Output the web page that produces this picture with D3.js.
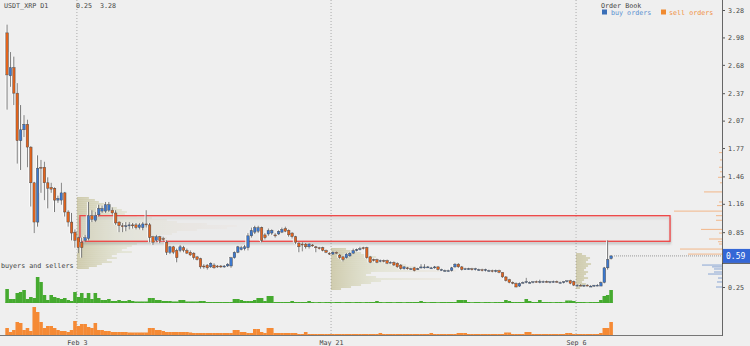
<!DOCTYPE html>
<html>
<head>
<meta charset="utf-8">
<script src="https://cdn.jsdelivr.net/npm/d3@7/dist/d3.min.js"></script>
<style>
html, body { margin: 0; padding: 0; background: #efefef; }
svg { display: block; }
text { font-family: "DejaVu Sans Mono", monospace; font-size: 6.7px; fill: #444; }
</style>
</head>
<body>
<svg id="chart" width="750" height="346"></svg>
<script>
// ---- data ----
var pair = "USDT_XRP", period = "D1";
var priceRange = [0.25, 3.28];
var yTicks = [0.25, 0.55, 0.85, 1.16, 1.46, 1.77, 2.07, 2.37, 2.68, 2.98, 3.28];
var dateTickIndex = [20.6, 95.5, 167.7];
var dateTickLabel = ["Feb 3", "May 21", "Sep 6"];

var open = [3.03,2.56,2.65,2.37,1.85,1.97,2.03,1.78,1.39,0.96, 1.56,1.56,1.39,1.34,1.33,1.20,1.20,1.28,1.07,0.96,
  0.85,0.79,0.74,0.76,0.78,1.03,0.98,1.04,1.08,1.08, 1.09,1.09,1.06,0.96,0.92,0.91,0.92,0.93,0.93,0.90,
  0.90,0.94,0.93,0.80,0.76,0.80,0.78,0.74,0.63,0.69, 0.65,0.65,0.68,0.65,0.63,0.62,0.58,0.56,0.48,0.49,
  0.47,0.49,0.48,0.48,0.47,0.48,0.48,0.57,0.63,0.66, 0.67,0.68,0.81,0.85,0.86,0.90,0.82,0.83,0.84,0.82,
  0.83,0.85,0.89,0.87,0.84,0.80,0.73,0.72,0.72,0.69, 0.71,0.69,0.68,0.68,0.65,0.62,0.61,0.63,0.60,0.58,
  0.57,0.59,0.62,0.65,0.66,0.68,0.68,0.58,0.55,0.55, 0.53,0.54,0.54,0.52,0.52,0.51,0.49,0.45,0.46,0.45,
  0.46,0.45,0.46,0.47,0.47,0.46,0.46,0.47,0.44,0.43, 0.43,0.43,0.47,0.50,0.47,0.45,0.45,0.45,0.44,0.44,
  0.44,0.43,0.43,0.43,0.42,0.43,0.41,0.36,0.33,0.30, 0.29,0.26,0.30,0.30,0.30,0.30,0.31,0.30,0.31,0.31,
  0.30,0.31,0.31,0.30,0.30,0.31,0.32,0.31,0.27,0.27, 0.26,0.27,0.26,0.26,0.27,0.26,0.30,0.46,0.56];
var high = [3.12,2.82,2.77,2.48,2.24,2.13,2.08,1.79,1.40,1.69, 1.64,1.62,1.45,1.39,1.34,1.25,1.39,1.29,1.09,1.06,
  0.88,0.80,0.79,0.82,1.18,1.09,1.07,1.15,1.14,1.18, 1.18,1.12,1.09,0.97,0.95,0.96,0.96,0.95,0.95,0.95,
  0.96,1.09,0.95,0.81,0.82,0.81,0.80,0.76,0.70,0.70, 0.67,0.71,0.70,0.67,0.65,0.63,0.59,0.57,0.50,0.50,
  0.52,0.51,0.49,0.49,0.49,0.51,0.58,0.64,0.70,0.70, 0.71,0.84,0.90,0.92,0.92,0.91,0.84,0.89,0.88,0.84,
  0.87,0.90,0.91,0.88,0.85,0.81,0.74,0.74,0.73,0.73, 0.72,0.70,0.69,0.69,0.66,0.63,0.64,0.64,0.61,0.59,
  0.62,0.63,0.67,0.67,0.69,0.69,0.69,0.59,0.56,0.56, 0.55,0.55,0.55,0.53,0.53,0.52,0.50,0.48,0.47,0.46,
  0.47,0.46,0.50,0.50,0.48,0.47,0.48,0.48,0.45,0.44, 0.44,0.47,0.51,0.51,0.48,0.46,0.46,0.46,0.46,0.45,
  0.45,0.45,0.44,0.44,0.44,0.44,0.41,0.37,0.34,0.31, 0.30,0.30,0.31,0.35,0.31,0.31,0.32,0.33,0.32,0.32,
  0.31,0.32,0.32,0.31,0.31,0.32,0.33,0.32,0.28,0.28, 0.27,0.28,0.27,0.27,0.28,0.31,0.47,0.76,0.60];
var low = [2.19,2.44,2.24,1.60,1.53,1.89,1.56,1.13,0.84,0.91, 1.28,1.20,1.11,1.28,1.07,1.17,1.15,1.02,0.91,0.76,
  0.68,0.62,0.57,0.74,0.76,0.96,0.96,1.02,1.06,1.06, 1.07,1.04,0.93,0.85,0.85,0.86,0.88,0.89,0.88,0.88,
  0.87,0.90,0.74,0.71,0.74,0.73,0.75,0.60,0.61,0.61, 0.52,0.63,0.63,0.61,0.59,0.55,0.54,0.45,0.45,0.44,
  0.46,0.45,0.46,0.46,0.46,0.47,0.46,0.56,0.62,0.65, 0.65,0.65,0.79,0.83,0.84,0.74,0.77,0.81,0.82,0.79,
  0.82,0.84,0.85,0.80,0.78,0.72,0.63,0.64,0.67,0.67, 0.69,0.63,0.66,0.64,0.62,0.60,0.60,0.61,0.56,0.53,
  0.56,0.58,0.61,0.64,0.65,0.66,0.56,0.51,0.53,0.51, 0.52,0.52,0.50,0.51,0.48,0.46,0.44,0.44,0.44,0.44,
  0.42,0.44,0.45,0.45,0.46,0.45,0.45,0.43,0.43,0.42, 0.42,0.42,0.46,0.46,0.43,0.44,0.44,0.43,0.43,0.43,
  0.42,0.42,0.42,0.41,0.41,0.40,0.35,0.31,0.29,0.28, 0.245,0.25,0.29,0.29,0.29,0.29,0.30,0.29,0.30,0.30,
  0.29,0.30,0.30,0.29,0.29,0.30,0.28,0.26,0.26,0.26, 0.25,0.26,0.25,0.25,0.26,0.26,0.29,0.44,0.55];
var close = [2.57,2.65,2.37,1.85,1.97,2.03,1.78,1.39,0.96,1.55, 1.55,1.39,1.33,1.32,1.20,1.22,1.28,1.07,0.96,0.84,
  0.76,0.68,0.68,0.79,1.03,0.99,1.03,1.11,1.11,1.15, 1.15,1.06,0.95,0.92,0.91,0.92,0.93,0.92,0.90,0.93,
  0.94,0.93,0.79,0.74,0.80,0.76,0.77,0.63,0.69,0.63, 0.57,0.69,0.65,0.62,0.60,0.57,0.55,0.47,0.47,0.46,
  0.51,0.46,0.47,0.47,0.48,0.50,0.57,0.63,0.69,0.68, 0.69,0.81,0.87,0.90,0.90,0.76,0.79,0.87,0.87,0.81,
  0.86,0.88,0.86,0.82,0.80,0.74,0.69,0.71,0.69,0.72, 0.70,0.68,0.67,0.65,0.63,0.61,0.63,0.62,0.57,0.55,
  0.61,0.62,0.65,0.66,0.67,0.67,0.57,0.52,0.54,0.52, 0.54,0.53,0.51,0.52,0.49,0.47,0.45,0.47,0.45,0.45,
  0.43,0.45,0.47,0.47,0.47,0.46,0.47,0.44,0.44,0.43, 0.43,0.46,0.50,0.47,0.44,0.45,0.45,0.44,0.45,0.44,
  0.43,0.44,0.43,0.42,0.43,0.41,0.36,0.32,0.30,0.29, 0.25,0.29,0.30,0.31,0.30,0.31,0.30,0.31,0.31,0.30,
  0.31,0.31,0.30,0.30,0.31,0.32,0.29,0.27,0.27,0.26, 0.27,0.26,0.26,0.27,0.27,0.30,0.46,0.55,0.59];

var buyVol = [14,4,4,10,11,13,4,6,5,26, 21,8,3,8,6,5,4,5,3,2, 11,6,10,5,10,4,10,5,3,3,
  4,2,2,3,2,2,3,2,1.5,1.5, 1.5,1.5,5,5,3,3,2,2,2,1.5, 1.5,3,3,1.5,1.5,1.5,1.5,2,2,1,
  1,1,1,1,1,1,1,4,4,3, 2,2,2,3,5,5,2,7,7,1, 1,1,1,1,2,1,1,1,1,2,
  1,0.7,1,0.7,1,1,0.7,1,1,0.7, 1,1,0.7,1,1,0.7,1,1,1,2, 1,0.7,1,1,0.7,1,1,0.7,1,1,
  1,1,2,1,0.7,1,1,0.7,1,1, 1,1,1,3,3,3,1,0.7,1,1, 0.7,1,1,0.7,1,1,1,3,2,1,
  1,1,1,4,2,1,1,3,1,1, 1,0.7,1,1,0.7,2.5,2.5,2,1,1, 1,0.7,1,1,1,3,7,8,13];
var sellVol = [7,3,5,13,12,5,7,4,28,23, 13,7,9,9,7,5,4,4,3,5, 14,9,11,11,8,7,12,5,5,4,
  4,3,3,3,3,3,2.5,2.5,2.5,2.5, 2.5,2.5,7,7,5,5,4,3,3,3, 3,3,3,3,2.5,2,2,2,2,2,
  2,2,2,2,2,2,2,5,5,3, 3,2,2,6,6,3,2,7,7,2, 2,2,2,2,2,2,1,1,3,1,
  1,1,1,1,1,1,1,1,1,1, 1,1,1,1,1,1,1,1,1,1, 2,1,1,1,1,1,1,1,1,1,
  1,1,1,1,1,2,1,1,1,1, 1,1,1,2,2,2,1,1,1,1, 1,1,1,1,1,1,1,2.5,2.5,1,
  1,1,1,3,3,1,1,1,1,1, 1,1,1,1,1,2,2,1,1,1, 1,1,1,1,1,2,7,7,13];

// volume profiles: start candle, price of the first bin, bin size, volume per bin
var profileStart = [20.6, 95.5, 167.7];
var profileTop = [1.224, 0.666, 0.611];
var profileStep = 0.0219;
var profileVol = [
  [12,18,22,28,34,40,45,50,48,60,75,90,100,130,160,150,120,100,95,80,90,75,70,60,55,50,45,55,40,35,40,30,35,25,20,12],
  [15,25,30,35,45,40,50,60,75,85,70,125,40,35,45,110,50,40,30,20,10],
  [6,10,14,12,10,15,12,10,8,12,10,8,12,8,6,10,6,4]
];

// order book
var sellPrices = [1.72,1.64,1.56,1.51,1.45,1.39,1.29,1.18,1.14,1.08,1.03,0.98,0.88,0.84,0.775,0.745,0.72,0.665,0.61];
var sellAmounts = [3,2,3,2,4,2,18,3,5,48,6,6,21,3,13,4,3,42,34];
var buyPrices = [0.49,0.47,0.447,0.414,0.392,0.348,0.305,0.25];
var buyAmounts = [20,10,8,8,14,4,5,6];

// annotations
var zone = { from: 21.5, to: 195.4, top: 1.03, bottom: 0.75 };
var sellZone = { from: 20.6, to: 175.6, level: 13 };

// ---- scales ----
var svg = d3.select("#chart");
var n = open.length;
var x = d3.scaleLinear().domain([0, n - 1]).range([7, 611]);
var y = d3.scaleLinear().domain(priceRange).range([287, 10]);
var buyY = d3.scaleLinear().domain([0, 30]).range([303, 273]);
var sellY = d3.scaleLinear().domain([0, 30]).range([335, 305]);
var amt = d3.scaleLinear().domain([0, 50]).range([0, 50]);
var step = x(1) - x(0);
var axisX = 722;
var last = close[n - 1];

var defs = svg.append("defs");
var sh = defs.append("filter").attr("id", "shadow").attr("x", "-5%").attr("y", "-50%").attr("width", "110%").attr("height", "200%");
sh.append("feDropShadow").attr("dx", 0).attr("dy", 2).attr("stdDeviation", 1.2)
  .attr("flood-color", "#666").attr("flood-opacity", 0.5);
var halo = defs.append("filter").attr("id", "halo");
halo.append("feDropShadow").attr("dx", -1).attr("dy", 0).attr("stdDeviation", 0.2)
  .attr("flood-color", "#fff").attr("flood-opacity", 0.9);

profileStart.forEach(function(s, k) {
  var g = defs.append("linearGradient").attr("id", "prof" + k)
    .attr("gradientUnits", "userSpaceOnUse")
    .attr("x1", x(s)).attr("x2", x(s) + 160).attr("y1", 0).attr("y2", 0);
  g.append("stop").attr("offset", 0).attr("stop-color", "#a49b55").attr("stop-opacity", 0.7);
  g.append("stop").attr("offset", 0.3).attr("stop-color", "#c2c68e").attr("stop-opacity", 0.4);
  g.append("stop").attr("offset", 1).attr("stop-color", "#f0c8b8").attr("stop-opacity", 0.15);
});

svg.append("rect").attr("width", 750).attr("height", 346).attr("fill", "#efefef");

// date grid
svg.append("g").selectAll("line").data(dateTickIndex).enter().append("line")
  .attr("x1", function(d) { return x(d); }).attr("x2", function(d) { return x(d); })
  .attr("y1", 0).attr("y2", 335)
  .attr("stroke", "#aaa").attr("stroke-dasharray", "1,2");

// volume profiles
profileVol.forEach(function(vols, k) {
  svg.append("g").selectAll("rect").data(vols).enter().append("rect")
    .attr("x", x(profileStart[k]))
    .attr("y", function(d, i) { return y(profileTop[k] - i * profileStep) - 0.6; })
    .attr("width", function(d) { return amt(d); })
    .attr("height", 1.2)
    .attr("fill", "url(#prof" + k + ")");
});

// price zone
svg.append("rect")
  .attr("x", x(zone.from)).attr("y", y(zone.top))
  .attr("width", x(zone.to) - x(zone.from)).attr("height", y(zone.bottom) - y(zone.top))
  .attr("fill", "rgba(255,255,255,0.18)")
  .attr("stroke", "#ee4444").attr("stroke-width", 1.3)
  .attr("filter", "url(#shadow)");

// candles
var candle = svg.append("g").attr("filter", "url(#halo)").selectAll("g").data(d3.range(n)).enter().append("g");
candle.append("line")
  .attr("x1", function(i) { return x(i); }).attr("x2", function(i) { return x(i); })
  .attr("y1", function(i) { return y(high[i]); }).attr("y2", function(i) { return y(low[i]); })
  .attr("stroke", "#777").attr("stroke-width", 1);
candle.append("rect")
  .attr("x", function(i) { return x(i) - 1.3; })
  .attr("width", 2.6)
  .attr("y", function(i) { return y(Math.max(open[i], close[i])); })
  .attr("height", function(i) { return Math.max(1, Math.abs(y(open[i]) - y(close[i]))); })
  .attr("fill", function(i) { return close[i] >= open[i] ? "#3a78cf" : "#e2641b"; })
  .attr("stroke", "#444").attr("stroke-width", 0.5);

// buyers and sellers
svg.append("line").attr("x1", x(0) - step / 2).attr("x2", x(n - 1) + step / 2)
  .attr("y1", buyY(0) - 0.5).attr("y2", buyY(0) - 0.5).attr("stroke", "#a8d898");
svg.append("g").selectAll("rect").data(buyVol).enter().append("rect")
  .attr("x", function(d, i) { return x(i) - step / 2; })
  .attr("width", step + 0.2)
  .attr("y", function(d) { return buyY(d); })
  .attr("height", function(d) { return buyY(0) - buyY(d); })
  .attr("fill", "#45aa2f");
svg.append("g").selectAll("rect").data(sellVol).enter().append("rect")
  .attr("x", function(d, i) { return x(i) - step / 2; })
  .attr("width", step + 0.2)
  .attr("y", function(d) { return sellY(d); })
  .attr("height", function(d) { return sellY(0) - sellY(d); })
  .attr("fill", "#f58a35");
svg.append("line")
  .attr("x1", x(sellZone.from)).attr("x2", x(sellZone.to))
  .attr("y1", sellY(sellZone.level)).attr("y2", sellY(sellZone.level))
  .attr("stroke", "#ee4444").attr("stroke-width", 1.4)
  .attr("filter", "url(#shadow)");
svg.append("text").attr("x", 1).attr("y", 268).text("buyers and sellers");

// order book
svg.append("g").selectAll("line").data(sellPrices).enter().append("line")
  .attr("x1", function(d, i) { return axisX - amt(sellAmounts[i]); }).attr("x2", axisX)
  .attr("y1", function(d) { return y(d); }).attr("y2", function(d) { return y(d); })
  .attr("stroke", "#f2b688").attr("stroke-width", 1);
svg.append("g").selectAll("line").data(buyPrices).enter().append("line")
  .attr("x1", function(d, i) { return axisX - amt(buyAmounts[i]); }).attr("x2", axisX)
  .attr("y1", function(d) { return y(d); }).attr("y2", function(d) { return y(d); })
  .attr("stroke", "#8aa6d4").attr("stroke-width", 1);

// axes (the label under the last-price box is hidden, as in the original)
var shownTicks = yTicks.filter(function(t) { return Math.abs(y(t) - y(last)) > 9; });
var yAxis = svg.append("g").attr("transform", "translate(" + axisX + ",0)")
  .call(d3.axisRight(y).tickValues(shownTicks).tickSize(3).tickPadding(3).tickFormat(d3.format(".2f")));
yAxis.select(".domain").remove();
yAxis.selectAll(".tick line").attr("stroke", "#555");
yAxis.selectAll("text").attr("font-size", null).attr("font-family", null).attr("fill", "#444");

var xAxis = svg.append("g").attr("transform", "translate(0,335)")
  .call(d3.axisBottom(x).tickValues(dateTickIndex).tickSize(0).tickPadding(5)
    .tickFormat(function(d, i) { return dateTickLabel[i]; }));
xAxis.select(".domain").remove();
xAxis.selectAll("text").attr("font-size", null).attr("font-family", null).attr("fill", "#444");

svg.append("line").attr("x1", axisX + 0.5).attr("x2", axisX + 0.5).attr("y1", 0).attr("y2", 336)
  .attr("stroke", "#666");
svg.append("line").attr("x1", 0).attr("x2", axisX).attr("y1", 335.5).attr("y2", 335.5)
  .attr("stroke", "#777");

// last price
svg.append("line").attr("x1", x(n - 1) + 3).attr("x2", axisX)
  .attr("y1", y(last)).attr("y2", y(last))
  .attr("stroke", "#999").attr("stroke-dasharray", "1,1");
svg.append("rect").attr("x", axisX + 1).attr("y", y(last) - 7).attr("width", 28).attr("height", 14)
  .attr("fill", "#3567d6");
svg.append("line").attr("x1", axisX).attr("x2", 750).attr("y1", y(last) + 7.5).attr("y2", y(last) + 7.5)
  .attr("stroke", "#333").attr("stroke-width", 0.8);
svg.append("text").attr("x", axisX + 4).attr("y", y(last) + 3)
  .style("font-size", "8px").style("fill", "#fff").text(d3.format(".2f")(last));

// title and legend
svg.append("text").attr("x", 4).attr("y", 8).text(pair + " " + period);
svg.append("text").attr("x", 76).attr("y", 8).text(d3.format(".2f")(priceRange[0]));
svg.append("text").attr("x", 100).attr("y", 8).text(d3.format(".2f")(priceRange[1]));
svg.append("text").attr("x", 601).attr("y", 7.5).text("Order Book");
svg.append("rect").attr("x", 602).attr("y", 9.5).attr("width", 5).attr("height", 5).attr("fill", "#3a6fb8");
svg.append("text").attr("x", 611).attr("y", 14.5).style("fill", "#5b8fd0").text("buy orders");
svg.append("rect").attr("x", 661).attr("y", 9.5).attr("width", 5).attr("height", 5).attr("fill", "#f08a30");
svg.append("text").attr("x", 669).attr("y", 14.5).style("fill", "#ef8f45").text("sell orders");
</script>
</body>
</html>
